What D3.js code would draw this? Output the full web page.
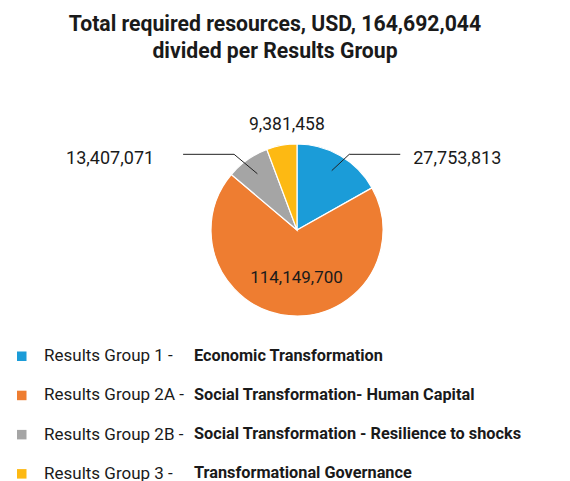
<!DOCTYPE html>
<html>
<head>
<meta charset="utf-8">
<script src="https://cdn.jsdelivr.net/npm/d3@7"></script>
<style>
  body { margin: 0; background: #fff; }
  text { font-family: Roboto, "Noto Sans", sans-serif; }
</style>
</head>
<body>
<div id="chart"></div>
<script>
// data
const groups = ["Results Group 1 -", "Results Group 2A -", "Results Group 2B -", "Results Group 3 -"];
const names = ["Economic Transformation", "Social Transformation- Human Capital", "Social Transformation - Resilience to shocks", "Transformational Governance"];
const values = [27753813, 114149700, 13407071, 9381458];
const colors = ["#1b9cd8", "#ee7d31", "#a5a5a5", "#fdb913"];
const titleLines = ["Total required resources, USD, 164,692,044", "divided per Results Group"];

const width = 570, height = 481;
const cx = 297, cy = 230, R = 86;

const svg = d3.select("#chart")
  .append("svg")
    .attr("width", width)
    .attr("height", height);

// titre
svg.append("g").selectAll("text")
  .data(titleLines)
  .join("text")
    .attr("x", 275)
    .attr("y", (d, i) => 31 + i * 27)
    .attr("text-anchor", "middle")
    .attr("font-size", 21.2)
    .attr("font-weight", "bold")
    .attr("fill", "#1a1a1a")
    .text(d => d);

const data = values.map((v, i) => ({ value: v, color: colors[i], i }));
const pie = d3.pie().sort(null).value(d => d.value);
const arcs = pie(data);

const arc = d3.arc().innerRadius(0).outerRadius(R);
const g = svg.append("g").attr("transform", `translate(${cx},${cy})`);

g.selectAll("path.slice")
  .data(arcs)
  .join("path")
    .attr("class", "slice")
    .attr("d", arc)
    .attr("fill", d => d.data.color)
    .attr("stroke", "#fff")
    .attr("stroke-width", 1.2);

const fmt = d3.format(",");
const mid = d => (d.startAngle + d.endAngle) / 2;
const pt = (a, r) => [Math.sin(a) * r, -Math.cos(a) * r];

// étiquettes avec ligne (bleu, gris)
const lead = arcs.filter(d => d.data.i === 0 || d.data.i === 2);
lead.forEach(d => {
  const a = mid(d);
  const side = Math.sin(a) > 0 ? 1 : -1;
  const p0 = pt(a, R * 0.8);
  const elbowY = -R * 0.88;
  const p1 = [Math.tan(a) * -elbowY * 1.18, elbowY];
  const p2 = [p1[0] + side * 51, p1[1]];
  g.append("polyline")
    .attr("points", [p0, p1, p2].map(p => p.join(",")).join(" "))
    .attr("fill", "none")
    .attr("stroke", "#222")
    .attr("stroke-width", 1);
  g.append("text")
    .attr("x", p2[0] + (side > 0 ? 13 : -29))
    .attr("y", p2[1])
    .attr("dy", "0.55em")
    .attr("text-anchor", side > 0 ? "start" : "end")
    .attr("font-size", 18)
    .attr("fill", "#1a1a1a")
    .text(fmt(d.data.value));
});

// jaune: au-dessus
const yel = arcs[3];
const py = pt(mid(yel), R + 16);
g.append("text")
  .attr("x", py[0] + 8)
  .attr("y", py[1])
  .attr("text-anchor", "middle")
  .attr("font-size", 17.5)
  .attr("fill", "#1a1a1a")
  .text(fmt(yel.data.value));

// orange: dedans
const org = arcs[1];
const po = pt(mid(org), R * 0.55);
g.append("text")
  .attr("x", po[0] + 4)
  .attr("y", po[1])
  .attr("dy", "0.35em")
  .attr("text-anchor", "middle")
  .attr("font-size", 17)
  .attr("fill", "#1a1a1a")
  .text(fmt(org.data.value));

// légende
const leg = svg.append("g").selectAll("g")
  .data(groups)
  .join("g")
    .attr("transform", (d, i) => `translate(0,${356 + i * 39.2})`);

leg.append("rect")
  .attr("x", 17).attr("y", -4.5)
  .attr("width", 9.5).attr("height", 9.5)
  .attr("fill", (d, i) => colors[i]);

leg.append("text")
  .attr("x", 44)
  .attr("dy", "0.3em")
  .attr("font-size", 17)
  .attr("fill", "#1a1a1a")
  .text(d => d);

leg.append("text")
  .attr("x", 194)
  .attr("dy", "0.3em")
  .attr("font-size", 16.3)
  .attr("font-weight", "bold")
  .attr("fill", "#1a1a1a")
  .text((d, i) => names[i]);
</script>
</body>
</html>
